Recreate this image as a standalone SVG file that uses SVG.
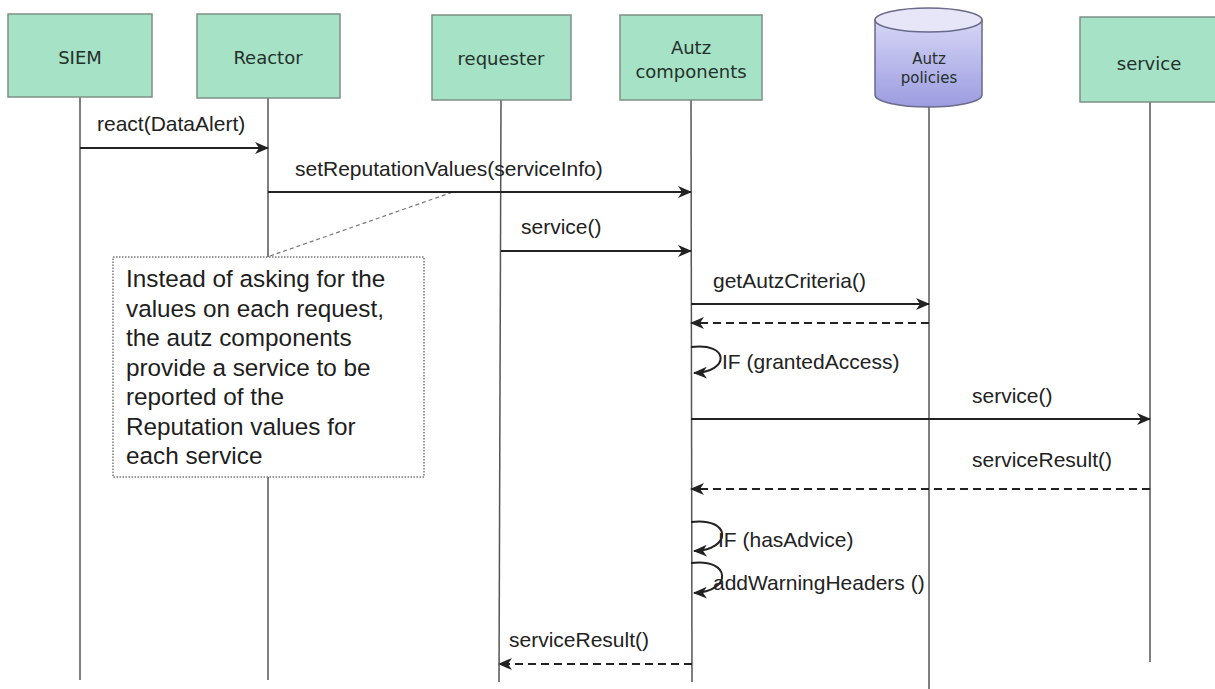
<svg xmlns="http://www.w3.org/2000/svg" width="1215" height="689" viewBox="0 0 1215 689">
<style>
.box{fill:#a6e2c6;stroke:#7f8f86;stroke-width:1.5}
.nt{font-family:"DejaVu Sans",sans-serif;font-size:18px;fill:#24302a;text-anchor:middle}
.lbl{font-family:"Liberation Sans",Arial,sans-serif;font-size:21px;fill:#222}
.note{font-family:"Liberation Sans",Arial,sans-serif;font-size:24.3px;fill:#1e1e1e}
.life{stroke:#555;stroke-width:1.5;fill:none}
.msg{stroke:#222;stroke-width:2;fill:none}
.ret{stroke:#222;stroke-width:2;fill:none;stroke-dasharray:8,5}
</style>
<defs>
<marker id="ah" viewBox="0 0 14 12" refX="13" refY="6" markerWidth="14" markerHeight="12" markerUnits="userSpaceOnUse" orient="auto">
<path d="M0,0 L14,6 L0,12 L4,6 z" fill="#222"/>
</marker>
<linearGradient id="cyl" x1="0" y1="0" x2="0" y2="1">
<stop offset="0" stop-color="#d6d6f6"/>
<stop offset="1" stop-color="#9c9ce0"/>
</linearGradient>
</defs>

<g id="lifelines">
<line class="life" x1="80" y1="97" x2="80" y2="680"/>
<line class="life" x1="268" y1="98" x2="268" y2="680"/>
<line class="life" x1="501" y1="100" x2="499" y2="682"/>
<line class="life" x1="691" y1="100" x2="692" y2="682"/>
<line class="life" x1="929" y1="107" x2="929" y2="689"/>
<line class="life" x1="1150" y1="102" x2="1150" y2="662"/>
</g>

<g id="SIEM">
<rect class="box" x="8" y="14" width="144" height="83"/>
<text class="nt" x="80" y="64">SIEM</text>
</g>
<g id="Reactor">
<rect class="box" x="197" y="14" width="143" height="84"/>
<text class="nt" x="268" y="64">Reactor</text>
</g>
<g id="requester">
<rect class="box" x="432" y="15" width="139" height="85"/>
<text class="nt" x="501" y="65">requester</text>
</g>
<g id="autz-components">
<rect class="box" x="620" y="15" width="142" height="85"/>
<text class="nt" x="691" y="54">Autz</text>
<text class="nt" x="691" y="78">components</text>
</g>
<g id="autz-policies">
<path d="M875,20 L875,95 A53.5,12 0 0 0 982,95 L982,20 Z" fill="url(#cyl)" stroke="#6a6a8a" stroke-width="1.5"/>
<ellipse cx="928.5" cy="20" rx="53.5" ry="12" fill="#e6e6f8" stroke="#6a6a8a" stroke-width="1.5"/>
<text class="nt" x="929" y="64" style="font-size:15px">Autz</text>
<text class="nt" x="929" y="83" style="font-size:15px">policies</text>
</g>
<g id="service">
<rect class="box" x="1080" y="17" width="140" height="85"/>
<text class="nt" x="1149" y="70">service</text>
</g>

<g id="note">
<line x1="270" y1="256" x2="453" y2="192" stroke="#777" stroke-width="1.2" stroke-dasharray="4,3"/>
<rect x="113" y="257" width="311" height="220" fill="#fff" stroke="#777" stroke-width="1.5" stroke-dasharray="1.5,1.5"/>
<text class="note" x="126" y="287">Instead of asking for the</text>
<text class="note" x="126" y="316.5">values on each request,</text>
<text class="note" x="126" y="346">the autz components</text>
<text class="note" x="126" y="375.5">provide a service to be</text>
<text class="note" x="126" y="405">reported of the</text>
<text class="note" x="126" y="434.5">Reputation values for</text>
<text class="note" x="126" y="464">each service</text>
</g>

<g id="connectors">
<line class="msg" x1="80" y1="148" x2="268" y2="148" marker-end="url(#ah)"/>
<line class="msg" x1="268" y1="192" x2="691" y2="192" marker-end="url(#ah)"/>
<line class="msg" x1="501" y1="251" x2="691" y2="251" marker-end="url(#ah)"/>
<line class="msg" x1="691" y1="304" x2="929" y2="304" marker-end="url(#ah)"/>
<line class="ret" x1="929" y1="323" x2="691" y2="323" marker-end="url(#ah)"/>
<path class="msg" d="M691,347 C730,342 730,372 694,373" marker-end="url(#ah)"/>
<line class="msg" x1="691" y1="419" x2="1150" y2="419" marker-end="url(#ah)"/>
<line class="ret" x1="1150" y1="489" x2="691" y2="489" marker-end="url(#ah)"/>
<path class="msg" d="M691,522 C732,517 732,550 694,551" marker-end="url(#ah)"/>
<path class="msg" d="M691,563 C732,558 732,592 694,593" marker-end="url(#ah)"/>
<line class="ret" x1="692" y1="664" x2="499" y2="664" marker-end="url(#ah)"/>
</g>

<g id="labels">
<text class="lbl" x="97" y="131">react(DataAlert)</text>
<text class="lbl" x="295" y="176">setReputationValues(serviceInfo)</text>
<text class="lbl" x="521" y="234">service()</text>
<text class="lbl" x="713" y="288">getAutzCriteria()</text>
<text class="lbl" x="722" y="369">IF (grantedAccess)</text>
<text class="lbl" x="972" y="403">service()</text>
<text class="lbl" x="972" y="467">serviceResult()</text>
<text class="lbl" x="718" y="547">IF (hasAdvice)</text>
<text class="lbl" x="713" y="590">addWarningHeaders ()</text>
<text class="lbl" x="509" y="647">serviceResult()</text>
</g>
</svg>
